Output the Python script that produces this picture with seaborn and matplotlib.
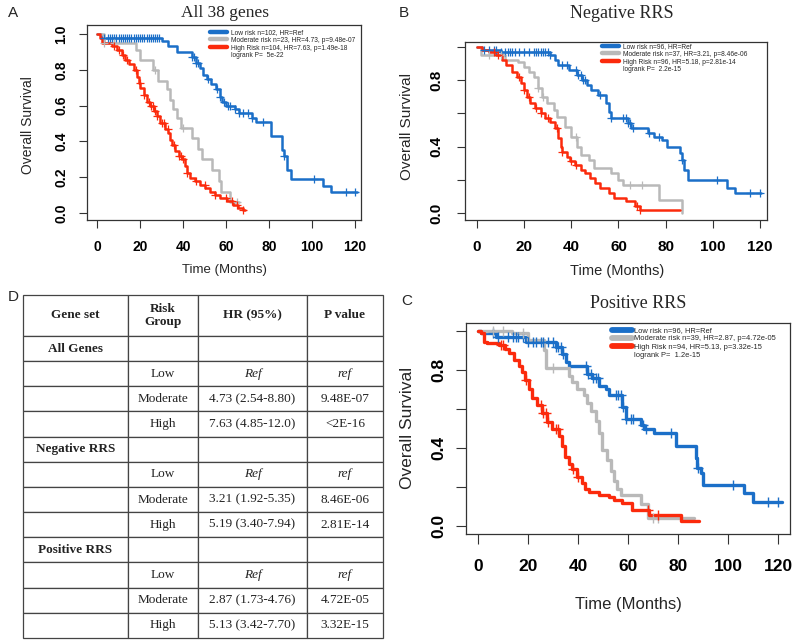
import numpy as np
import matplotlib
matplotlib.use('Agg')
import matplotlib.pyplot as plt
import seaborn as sns
from matplotlib.lines import Line2D

sns.set_theme(style='white')
plt.rcParams['font.family'] = ['Liberation Sans', 'DejaVu Sans']

LOW_COL = '#1b6fc8'
MOD_COL = '#b9b9b9'
HIGH_COL = '#fb2a0c'

# ---------------- Panel A: all 38 genes ----------------
a_low_t = [0, 2, 30, 33, 37, 44, 46, 48, 49.5, 51, 53, 55.5, 57, 58, 60, 64, 66, 72, 74, 81,
           86, 87, 88.5, 90, 105, 109, 121]
a_low_s = [1.0, 0.98, 0.96, 0.93, 0.90, 0.87, 0.84, 0.81, 0.77, 0.75, 0.72, 0.69, 0.65, 0.62, 0.60,
           0.58, 0.56, 0.53, 0.51, 0.43, 0.35, 0.32, 0.24, 0.19, 0.15, 0.115, 0.115]
a_low_cens = [3, 5, 6, 7, 8, 9, 10, 11, 12, 13, 14, 15, 16, 17, 18, 19, 20, 21, 22, 23, 24, 25, 26,
              27, 28, 29, 44, 45, 46, 47, 51.5, 56, 57, 59, 61, 62, 64, 66, 68, 70, 72, 77, 87, 101,
              116, 120]
a_mod_t = [0, 3, 18, 20, 26, 28.5, 32.5, 34, 35.5, 37, 39, 44, 47, 49, 53.5, 56.5, 57.5, 62, 66]
a_mod_s = [1.0, 0.95, 0.91, 0.855, 0.80, 0.74, 0.69, 0.63, 0.58, 0.53, 0.475, 0.42, 0.36, 0.30,
           0.24, 0.18, 0.115, 0.06, 0.06]
a_mod_cens = [3, 8, 27, 40, 65]
a_high_t = [0, 1.5, 2.3, 7, 9.3, 11.6, 13.1, 14.7, 17, 18.6, 19.3, 20.1, 21.6, 23.2, 24.7, 26.3,
            27.8, 29.4, 31.7, 33.2, 34, 34.8, 36.3, 37.9, 39.4, 41, 41.8, 43.3, 45.6, 47.9, 50.3,
            52.6, 54.9, 57.2, 60.3, 63.4, 65.7, 68, 69]
a_high_s = [1.0, 0.976, 0.95, 0.93, 0.91, 0.88, 0.855, 0.83, 0.80, 0.76, 0.725, 0.70, 0.66, 0.62,
            0.595, 0.567, 0.54, 0.50, 0.47, 0.446, 0.41, 0.38, 0.344, 0.316, 0.30, 0.26, 0.223,
            0.195, 0.177, 0.158, 0.14, 0.12, 0.10, 0.084, 0.065, 0.046, 0.028, 0.015, 0.015]
a_high_cens = [8, 10, 12, 14, 18, 20, 22, 24, 25, 26, 27, 28, 30, 31, 33, 36, 38, 39, 40, 42, 46,
               50, 55, 60, 63, 65, 68]
a_labels = ['Low risk n=102, HR=Ref', 'Moderate risk n=23, HR=4.73, p=9.48e-07',
            'High Risk n=104, HR=7.63, p=1.49e-18', 'logrank P=  5e-22']

# ---------------- Panel B: negative RRS ----------------
b_low_t = [0, 2, 10, 31, 33, 34.5, 39, 42.5, 44.5, 46.5, 48.5, 51.5, 54.5, 56, 57, 64, 65.5, 72.5,
           75, 78.5, 80.5, 86, 87, 88, 89.5, 106, 109.5, 120.5]
b_low_s = [1.0, 0.98, 0.97, 0.95, 0.92, 0.89, 0.86, 0.83, 0.80, 0.77, 0.74, 0.71, 0.66, 0.61, 0.57,
           0.54, 0.51, 0.48, 0.46, 0.44, 0.40, 0.36, 0.32, 0.26, 0.20, 0.15, 0.12, 0.12]
b_low_cens = [3, 5, 7, 8, 10, 12, 13, 14, 15, 16, 18, 20, 22, 24, 25, 26, 27, 28, 29, 30, 31, 36,
              38, 42, 43, 44, 45, 46, 52, 57, 62, 63, 64, 65, 66, 73, 77, 87, 102, 116, 120]
b_mod_t = [0, 1.5, 12, 17.5, 20, 22, 24, 26, 27.5, 29.5, 32.5, 34, 37.5, 40, 42.5, 44, 47.5, 49.5,
           57, 60, 62, 77, 87]
b_mod_s = [1.0, 0.95, 0.92, 0.91, 0.88, 0.85, 0.82, 0.75, 0.70, 0.66, 0.62, 0.58, 0.52, 0.46, 0.40,
           0.35, 0.32, 0.27, 0.24, 0.20, 0.17, 0.08, 0.0]
b_mod_cens = [5, 10, 26, 28, 42, 65, 70]
b_high_t = [0, 2, 5, 8, 10.5, 12.5, 15, 17, 18.5, 20, 21, 22.5, 24.5, 27, 29, 31, 33, 34.5, 35.5,
            36, 38, 39.5, 41.5, 44, 46, 48, 50, 52, 56, 58, 63, 67, 69, 86]
b_high_s = [1.0, 0.98, 0.97, 0.95, 0.92, 0.89, 0.85, 0.82, 0.78, 0.74, 0.70, 0.66, 0.63, 0.60,
            0.57, 0.55, 0.51, 0.45, 0.40, 0.37, 0.34, 0.31, 0.29, 0.26, 0.24, 0.21, 0.18, 0.15,
            0.12, 0.09, 0.07, 0.04, 0.02, 0.02]
b_high_cens = [7, 9, 18, 20, 22, 25, 27, 30, 34, 36, 40, 42, 68, 69]
b_labels = ['Low risk n=96, HR=Ref', 'Moderate risk n=37, HR=3.21, p=8.46e-06',
            'High Risk n=96, HR=5.18, p=2.81e-14', 'logrank P=  2.2e-15']

# ---------------- Panel C: positive RRS ----------------
c_low_t = [0, 1, 7, 19, 31, 33.5, 35, 36.5, 43.5, 45.5, 48.5, 51, 52.5, 57.5, 59, 65, 66.5, 70.5,
           79, 87, 87.5, 89, 90, 106.5, 110, 121.5]
c_low_s = [1.0, 0.99, 0.97, 0.945, 0.92, 0.88, 0.84, 0.82, 0.78, 0.76, 0.72, 0.70, 0.67, 0.61,
           0.55, 0.52, 0.50, 0.475, 0.41, 0.35, 0.30, 0.27, 0.21, 0.17, 0.125, 0.125]
c_low_cens = [6, 8, 12, 14, 15, 16, 18, 20, 22, 23, 25, 26, 28, 30, 31, 32, 33, 34, 43, 44, 45, 46,
              47, 48, 55, 56, 57, 58, 59, 61, 62, 66, 67, 77, 88, 102, 116, 120]
c_mod_t = [0, 13.5, 20, 26.5, 27, 36.5, 37.5, 39.5, 42.5, 43.5, 45, 47, 48.5, 49.5, 51.5, 53, 54.5,
           55.5, 57, 65, 68, 86.5]
c_mod_s = [1.0, 0.99, 0.955, 0.90, 0.81, 0.77, 0.74, 0.70, 0.67, 0.63, 0.59, 0.54, 0.475, 0.39,
           0.34, 0.28, 0.23, 0.19, 0.16, 0.115, 0.04, 0.04]
c_mod_cens = [6, 10, 18, 30, 70, 72]
c_high_t = [0, 1.3, 2.3, 3.6, 8.3, 10.9, 12.3, 14.3, 16.3, 17.6, 18.9, 20.3, 21.6, 23.6, 25.6, 27.6,
            29.6, 32.3, 33.6, 34.9, 36.3, 37.6, 39.6, 41.6, 42.9, 44.3, 48.3, 52.3, 54.3, 57.6,
            61.6, 68.3, 81, 88.5]
c_high_s = [1.0, 0.99, 0.945, 0.937, 0.93, 0.91, 0.885, 0.85, 0.82, 0.79, 0.75, 0.705, 0.655, 0.62,
            0.58, 0.535, 0.50, 0.46, 0.41, 0.355, 0.32, 0.29, 0.25, 0.22, 0.19, 0.175, 0.16, 0.15,
            0.133, 0.116, 0.082, 0.056, 0.027, 0.027]
c_high_cens = [9, 10, 19, 25, 26, 27, 28, 31, 32, 38, 40, 68, 72]
c_labels = ['Low risk n=96, HR=Ref', 'Moderate risk n=39, HR=2.87, p=4.72e-05',
            'High Risk n=94, HR=5.13, p=3.32e-15', 'logrank P=  1.2e-15']

# ---------------- Panel D: table ----------------
table_header = ['Gene set', 'Risk\nGroup', 'HR (95%)', 'P value']
gene_sets = ['All Genes', 'Negative RRS', 'Positive RRS']
risk_groups = ['Low', 'Moderate', 'High']
hr_values = [['Ref', '4.73 (2.54-8.80)', '7.63 (4.85-12.0)'],
             ['Ref', '3.21 (1.92-5.35)', '5.19 (3.40-7.94)'],
             ['Ref', '2.87 (1.73-4.76)', '5.13 (3.42-7.70)']]
p_values = [['ref', '9.48E-07', '<2E-16'],
            ['ref', '8.46E-06', '2.81E-14'],
            ['ref', '4.72E-05', '3.32E-15']]

W, H = 795, 642


def px(x, y):
    return x / W, 1 - y / H


def rect(left, top, right, bottom):
    return [left / W, 1 - bottom / H, (right - left) / W, (bottom - top) / H]


def surv_at(t, s, c):
    idx = np.searchsorted(t, c, side='right') - 1
    return np.asarray(s)[idx]


def km_panel(fig, cfg, curves, labels):
    ax = fig.add_axes(rect(*cfg['box']))
    cols = [LOW_COL, MOD_COL, HIGH_COL]
    for (t, s, c), col in zip(curves, cols):
        sns.lineplot(x=t, y=s, drawstyle='steps-post', color=col, lw=cfg['lw'],
                     estimator=None, sort=False, ax=ax)
        sns.scatterplot(x=c, y=surv_at(t, s, c), marker='+', color=col, s=cfg['ms'],
                        linewidth=cfg['mlw'], ax=ax, zorder=3)
    ax.set_xlim(cfg['xlim'])
    ax.set_ylim(cfg['ylim'])
    ax.set_xticks(range(0, 121, 20))
    ax.set_xticklabels([str(v) for v in range(0, 121, 20)], fontweight='bold', fontsize=cfg['tfs'])
    ax.set_yticks([0, 0.2, 0.4, 0.6, 0.8, 1.0])
    ax.set_yticklabels(cfg['ylabs'], fontweight='bold', fontsize=cfg['tfs'])
    ax.tick_params(axis='both', bottom=True, left=True, direction='out', length=cfg['tlen'],
                   width=0.8, color='#333333', labelcolor='black')
    ax.tick_params(axis='x', pad=cfg['xpad'])
    ax.tick_params(axis='y', pad=cfg['ypad'], labelrotation=90)
    for lab in ax.get_yticklabels():
        lab.set_verticalalignment('center')
    for sp in ax.spines.values():
        sp.set_color('#333333')
        sp.set_linewidth(0.9)
    ax.set_xlabel('')
    ax.set_ylabel('')

    handles = [Line2D([], [], color=c, lw=cfg['hlw'], solid_capstyle='round') for c in cols]
    handles.append(Line2D([], [], color='none'))
    ax.legend(handles, labels, loc='upper left', bbox_to_anchor=px(*cfg['leg']),
              bbox_transform=fig.transFigure, frameon=False, fontsize=cfg['lfs'],
              handlelength=cfg['hl'], handletextpad=cfg['htp'], labelspacing=0.12,
              borderpad=0, borderaxespad=0)

    fig.text(*px(*cfg['title']), cfg['title_txt'], family='Liberation Serif',
             fontsize=cfg['title_fs'], ha='center', va='center')
    fig.text(*px(*cfg['xl']), 'Time (Months)', fontsize=cfg['lab_fs'], ha='center', va='center')
    fig.text(*px(*cfg['yl']), 'Overall Survival', fontsize=cfg['lab_fs'] + 0.5, ha='center',
             va='center', rotation=90)
    fig.text(*px(*cfg['tag']), cfg['tag_txt'], fontsize=11, ha='left', va='center')
    return ax


fig = plt.figure(figsize=(7.95, 6.42), dpi=100)
fig.patch.set_facecolor('white')

full_labs = ['0.0', '0.2', '0.4', '0.6', '0.8', '1.0']
half_labs = ['0.0', '', '0.4', '', '0.8', '']

cfg_a = dict(box=(87, 25, 361, 220), xlim=(-4.7, 122.8), ylim=(-0.039, 1.05), lw=1.8, ms=32,
             mlw=0.9, tfs=10, tlen=5.5, xpad=9, ypad=8, ylabs=full_labs, leg=(210, 29),
             lfs=4.8, hl=2.5, htp=0.7, hlw=3.2, title=(225, 13), title_txt='All 38 genes',
             title_fs=12.5, xl=(224, 270), yl=(28, 125), lab_fs=9.5, tag=(8, 13), tag_txt='A')
cfg_b = dict(box=(465, 42, 767, 220), xlim=(-5.1, 123), ylim=(-0.042, 1.029), lw=1.8, ms=32,
             mlw=0.9, tfs=11, tlen=5.5, xpad=9, ypad=10, ylabs=half_labs, leg=(602, 43),
             lfs=4.8, hl=2.6, htp=0.5, hlw=3.2, title=(622, 13), title_txt='Negative RRS',
             title_fs=13, xl=(617, 271), yl=(407, 126), lab_fs=10.5, tag=(399, 13), tag_txt='B')
cfg_c = dict(box=(466, 323, 790, 534), xlim=(-4.8, 124.8), ylim=(-0.041, 1.041), lw=2.4, ms=45,
             mlw=1.0, tfs=12.5, tlen=7, xpad=11, ypad=7, ylabs=half_labs, leg=(612, 327),
             lfs=5.4, hl=2.6, htp=0.4, hlw=4.2, title=(638, 303), title_txt='Positive RRS',
             title_fs=13, xl=(628, 605), yl=(408, 428), lab_fs=12, tag=(401, 301), tag_txt='C')

km_panel(fig, cfg_a, [(a_low_t, a_low_s, a_low_cens), (a_mod_t, a_mod_s, a_mod_cens),
                      (a_high_t, a_high_s, a_high_cens)], a_labels)
km_panel(fig, cfg_b, [(b_low_t, b_low_s, b_low_cens), (b_mod_t, b_mod_s, b_mod_cens),
                      (b_high_t, b_high_s, b_high_cens)], b_labels)
km_panel(fig, cfg_c, [(c_low_t, c_low_s, c_low_cens), (c_mod_t, c_mod_s, c_mod_cens),
                      (c_high_t, c_high_s, c_high_cens)], c_labels)

# table D
rows = [table_header]
for g, hrs, ps in zip(gene_sets, hr_values, p_values):
    rows.append([g, '', '', ''])
    for rg, hr, p in zip(risk_groups, hrs, ps):
        rows.append(['', rg, hr, p])

tax = fig.add_axes(rect(23, 295, 383, 638))
tax.axis('off')
col_w = [105, 70, 109, 76]
tbl = tax.table(cellText=rows, colWidths=[w / sum(col_w) for w in col_w], cellLoc='center',
                bbox=[0, 0, 1, 1])
tbl.auto_set_font_size(False)
tbl.set_fontsize(9.5)
total_h = 41 + 12 * 25.2
for (r, c), cell in tbl.get_celld().items():
    cell.set_height((41 if r == 0 else 25.2) / total_h)
    cell.set_edgecolor('#444444')
    cell.set_linewidth(0.9)
    txt = cell.get_text()
    txt.set_fontfamily('Liberation Serif')
    txt.set_color('#222222')
    if r == 0 or (c == 0 and txt.get_text()):
        txt.set_fontweight('bold')
    if txt.get_text() in ('Ref', 'ref'):
        txt.set_fontstyle('italic')
fig.text(*px(8, 297), 'D', fontsize=11, ha='left', va='center')

plt.savefig('out.png', dpi=100)
plt.close()
